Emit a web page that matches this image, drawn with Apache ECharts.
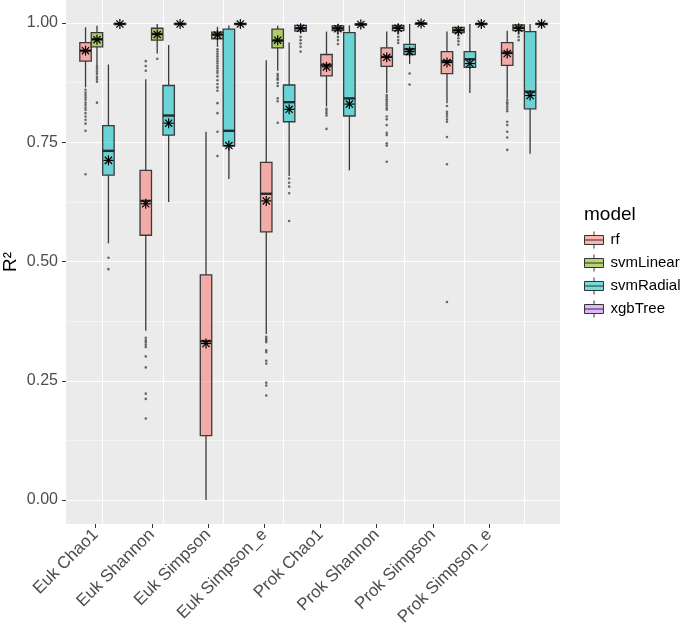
<!DOCTYPE html>
<html><head><meta charset="utf-8">
<script src="https://cdn.jsdelivr.net/npm/echarts@6/dist/echarts.min.js"></script>
<style>html,body{margin:0;padding:0;background:#fff}#c{width:685px;height:637px}</style>
</head><body><div id="c"></div>
<script>
const categories = ['Euk Chao1','Euk Shannon','Euk Simpson','Euk Simpson_e','Prok Chao1','Prok Shannon','Prok Simpson','Prok Simpson_e'];
const models = ['rf','svmLinear','svmRadial','xgbTree'];
const yTicks = [0, 0.25, 0.5, 0.75, 1];
const yTitle = 'R²';

// [lower whisker, Q1, median, Q3, upper whisker]
const rfStats = [
  [0.865,0.920,0.942,0.959,0.991],[0.355,0.555,0.627,0.691,0.882],[0.000,0.135,0.333,0.472,0.772],[0.348,0.562,0.642,0.708,0.922],
  [0.825,0.889,0.912,0.934,0.982],[0.853,0.909,0.929,0.948,0.982],[0.832,0.894,0.920,0.940,0.982],[0.842,0.911,0.938,0.959,0.984]];
const rfMeans = [0.942,0.621,0.328,0.627,0.908,0.928,0.917,0.936];
const rfOutliers = [
  [0.860,0.854,0.849,0.844,0.839,0.833,0.828,0.823,0.818,0.811,0.804,0.797,0.789,0.774,0.683],
  [0.920,0.910,0.900,0.340,0.335,0.331,0.326,0.321,0.301,0.278,0.223,0.212,0.171],
  [],
  [0.342,0.338,0.335,0.331,0.314,0.310,0.292,0.286,0.246,0.240,0.219],
  [0.820,0.816,0.811,0.806,0.778],
  [0.849,0.845,0.840,0.836,0.831,0.827,0.822,0.818,0.804,0.798,0.786,0.770,0.765,0.748,0.743,0.709],
  [0.826,0.814,0.809,0.804,0.798,0.793,0.761,0.704,0.415],
  [0.839,0.834,0.830,0.825,0.820,0.815,0.793,0.786,0.772,0.760,0.734]];

const svmLinearStats = [
  [0.910,0.950,0.966,0.980,0.994],[0.936,0.964,0.977,0.989,0.998],[0.950,0.967,0.976,0.981,0.992],[0.900,0.948,0.963,0.987,0.994],
  [0.982,0.984,0.989,0.994,0.998],[0.980,0.984,0.990,0.995,0.998],[0.977,0.980,0.985,0.991,0.994],[0.980,0.984,0.990,0.996,0.998]];
const svmLinearMeans = [0.965,0.976,0.975,0.964,0.988,0.989,0.984,0.989];
const svmLinearOutliers = [
  [0.908,0.903,0.898,0.893,0.887,0.882,0.877,0.833],
  [0.925],
  [0.945,0.940,0.935,0.930,0.925,0.920,0.915,0.910,0.905,0.900,0.895,0.888,0.880,0.872,0.865,0.858,0.832,0.811,0.772,0.721],
  [0.893,0.889,0.884,0.881,0.874,0.868,0.842,0.836,0.791],
  [0.978,0.971,0.964,0.956],
  [0.978,0.971,0.964,0.958],
  [0.974,0.968,0.962,0.955],
  [0.978,0.971,0.964]];

const svmRadialStats = [
  [0.538,0.681,0.732,0.785,0.913],[0.625,0.765,0.806,0.869,0.954],[0.673,0.742,0.774,0.987,0.995],[0.679,0.793,0.834,0.870,0.959],
  [0.691,0.805,0.842,0.980,0.995],[0.914,0.934,0.945,0.955,0.998],[0.853,0.907,0.924,0.940,0.998],[0.726,0.820,0.856,0.982,0.998]];
const svmRadialMeans = [0.712,0.790,0.743,0.819,0.830,0.940,0.915,0.848];
const svmRadialOutliers = [[0.508,0.484],[],[],[0.674,0.665,0.657,0.643,0.585],[],[0.894,0.871],[],[]];

const xgbTreeStats = [
  [0.996,0.997,0.998,0.999,1.000],[0.996,0.997,0.998,0.999,1.000],[0.995,0.997,0.998,0.999,1.000],[0.978,0.983,0.989,0.995,0.998],
  [0.995,0.996,0.997,0.998,1.000],[0.996,0.998,0.999,0.9995,1.000],[0.995,0.997,0.998,0.999,1.000],[0.995,0.997,0.998,0.999,1.000]];
const xgbTreeMeans = [0.998,0.998,0.998,0.989,0.997,0.999,0.998,0.998];
const xgbTreeOutliers = [[],[],[],[0.971,0.964,0.957,0.950,0.940],[],[],[],[]];

const fills = ['rgba(248,118,109,0.55)','rgba(124,174,0,0.55)','rgba(0,191,196,0.55)','rgba(199,124,255,0.55)'];
const statsByModel = [rfStats, svmLinearStats, svmRadialStats, xgbTreeStats];
const meansByModel = [rfMeans, svmLinearMeans, svmRadialMeans, xgbTreeMeans];
const outliersByModel = [rfOutliers, svmLinearOutliers, svmRadialOutliers, xgbTreeOutliers];

const FONT = "'Liberation Sans', Arial, Helvetica, sans-serif";
const SLOT = 0.19;

function boxRenderer(mi) {
  return function (params, api) {
    const ci = api.value(0);
    const band = api.size([1, 0])[0];
    const slot = band * SLOT;
    const base = api.coord([ci, api.value(3)]);
    const cx = base[0] + (mi - 1.5) * slot;
    const Y = v => api.coord([ci, v])[1];
    const yl = Y(api.value(1)), yq1 = Y(api.value(2)), ym = base[1], yq3 = Y(api.value(4)), yh = Y(api.value(5)), yMean = Y(api.value(6));
    const hw = slot / 2;
    const ls = {stroke: '#3a3a3a', lineWidth: 1.3};
    const st = {stroke: '#000', lineWidth: 1.2};
    const s = 5, d = 3.6;
    return {type: 'group', children: [
      {type: 'line', shape: {x1: cx, y1: yh, x2: cx, y2: yq3}, style: ls},
      {type: 'line', shape: {x1: cx, y1: yq1, x2: cx, y2: yl}, style: ls},
      {type: 'rect', shape: {x: cx - hw, y: yq3, width: slot, height: Math.max(yq1 - yq3, 1)}, style: {fill: api.visual('color'), stroke: '#3a3a3a', lineWidth: 1.3}},
      {type: 'line', shape: {x1: cx - hw, y1: ym, x2: cx + hw, y2: ym}, style: {stroke: '#2a2a2a', lineWidth: 2.4}},
      {type: 'line', shape: {x1: cx - s, y1: yMean, x2: cx + s, y2: yMean}, style: st},
      {type: 'line', shape: {x1: cx, y1: yMean - s, x2: cx, y2: yMean + s}, style: st},
      {type: 'line', shape: {x1: cx - d, y1: yMean - d, x2: cx + d, y2: yMean + d}, style: st},
      {type: 'line', shape: {x1: cx - d, y1: yMean + d, x2: cx + d, y2: yMean - d}, style: st}
    ]};
  };
}
function outlierRenderer(mi) {
  return function (params, api) {
    const ci = api.value(0);
    const band = api.size([1, 0])[0];
    const slot = band * SLOT;
    const p = api.coord([ci, api.value(1)]);
    return {type: 'circle', shape: {cx: p[0] + (mi - 1.5) * slot, cy: p[1], r: 1.3}, style: {fill: 'rgba(60,60,60,0.75)'}};
  };
}

const series = [];
models.forEach((m, mi) => {
  series.push({
    name: m, type: 'custom', xAxisIndex: 3, yAxisIndex: 3, z: 3,
    itemStyle: {color: fills[mi], borderColor: '#333', borderWidth: 1},
    encode: {x: 0, y: [1, 2, 3, 4, 5, 6]},
    renderItem: boxRenderer(mi),
    data: statsByModel[mi].map((s, ci) => [ci, ...s, meansByModel[mi][ci]])
  });
});
models.forEach((m, mi) => {
  const pts = [];
  outliersByModel[mi].forEach((arr, ci) => arr.forEach(v => pts.push([ci, v])));
  series.push({
    name: m, type: 'custom', xAxisIndex: 3, yAxisIndex: 3, z: 2,
    itemStyle: {color: fills[mi]},
    encode: {x: 0, y: 1},
    renderItem: outlierRenderer(mi),
    data: pts
  });
});

const keyIcon = 'path://M9.5,0L9.5,4M9.5,13L9.5,17M0,4L19,4L19,13L0,13ZM0,8.5L19,8.5';
const G = {outerBoundsMode: 'none', containLabel: false};

const chart = echarts.init(document.getElementById('c'), null, {renderer: 'canvas'});
chart.setOption({
  animation: false,
  backgroundColor: '#fff',
  textStyle: {fontFamily: FONT},
  title: {text: 'model', left: 579, top: 200, textStyle: {fontSize: 19, fontWeight: 'normal', color: '#000', fontFamily: FONT}},
  graphic: [{type: 'text', x: 11, y: 262, rotation: Math.PI / 2,
    style: {text: yTitle, fontSize: 19, fill: '#000', fontFamily: FONT, align: 'center', verticalAlign: 'middle'}}],
  legend: {
    orient: 'vertical', left: 579, top: 226, itemWidth: 19, itemHeight: 17, itemGap: 5,
    data: models.map(n => ({name: n, icon: keyIcon})),
    itemStyle: {borderColor: '#333', borderWidth: 1},
    textStyle: {fontSize: 15, color: '#000', fontFamily: FONT, padding: [0, 0, 0, 2]},
    selectedMode: false
  },
  grid: [
    Object.assign({left: 66, top: 0, width: 494, height: 524, show: true, backgroundColor: '#EBEBEB', borderWidth: 0, z: -1}, G),
    Object.assign({left: 66, top: 23, width: 494, height: 477}, G),
    Object.assign({left: 42.46, top: 0, width: 542.16, height: 524}, G),
    Object.assign({left: 72.58, top: 23, width: 481.92, height: 477}, G),
    Object.assign({left: 67.6, top: 0, width: 449.6, height: 524}, G)
  ],
  xAxis: [
    {gridIndex: 0, type: 'value', show: false},
    {gridIndex: 1, type: 'value', show: false, min: 0, max: 1},
    {gridIndex: 2, type: 'value', min: 0, max: 9, interval: 1, z: 1,
      axisLine: {show: false}, axisTick: {show: false}, axisLabel: {show: false},
      splitLine: {show: true, showMinLine: false, showMaxLine: false, lineStyle: {color: '#fff', width: 1.1}}},
    {gridIndex: 3, type: 'category', data: categories, show: false},
    {gridIndex: 4, type: 'category', data: categories, position: 'bottom',
      axisLine: {show: false},
      axisTick: {show: true, alignWithLabel: true, length: 4, lineStyle: {color: '#333', width: 1}},
      axisLabel: {rotate: 45, fontSize: 17, color: '#4D4D4D', margin: 8, fontFamily: FONT, interval: 0},
      splitLine: {show: false}}
  ],
  yAxis: [
    {gridIndex: 0, type: 'value', show: false},
    {gridIndex: 1, type: 'value', min: yTicks[0], max: yTicks[yTicks.length - 1], interval: yTicks[1] - yTicks[0], z: 1,
      axisLine: {show: false},
      axisTick: {show: true, length: 4, lineStyle: {color: '#333', width: 1}},
      axisLabel: {fontSize: 16, color: '#4D4D4D', margin: 8, fontFamily: FONT, formatter: v => v.toFixed(2)},
      splitLine: {show: true, lineStyle: {color: '#fff', width: 1.1}},
      minorTick: {show: false, splitNumber: 2},
      minorSplitLine: {show: true, lineStyle: {color: '#FAFAFA', width: 0.6}}},
    {gridIndex: 2, type: 'value', show: false},
    {gridIndex: 3, type: 'value', min: 0, max: 1, show: false},
    {gridIndex: 4, type: 'value', show: false}
  ],
  series: series
});
</script>
</body></html>
